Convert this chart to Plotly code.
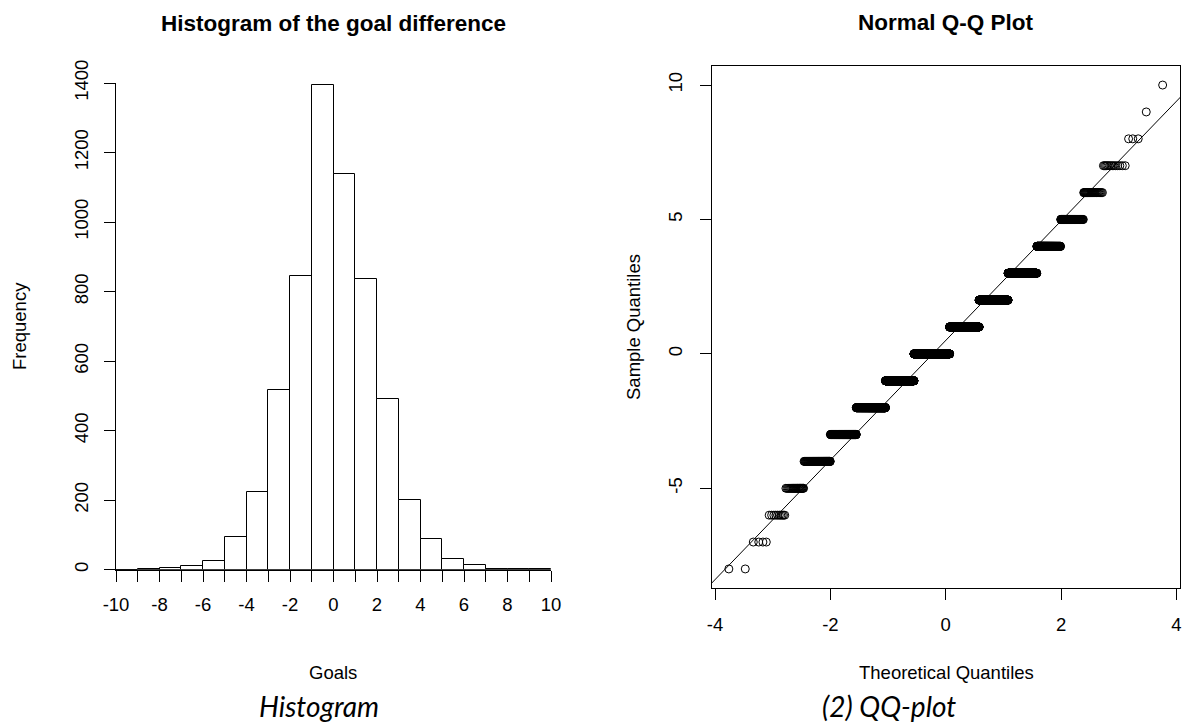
import numpy as np
import plotly.graph_objects as go
from statistics import NormalDist

# ---------------- data ----------------
goal_diff = [-8, -7, -6, -5, -4, -3, -2, -1, 0, 1, 2, 3, 4, 5, 6, 7, 8, 9, 10]
frequency = [2, 4, 10, 25, 93, 223, 518, 845, 1395, 1137, 837, 490, 201, 87, 31, 14, 3, 1, 1]

hist_breaks = list(range(-10, 11))
hist_x_ticks = list(range(-10, 11))
hist_x_ticktext = [str(v) if v % 2 == 0 else "" for v in hist_x_ticks]
hist_y_ticks = [0, 200, 400, 600, 800, 1000, 1200, 1400]
qq_x_ticks = [-4, -2, 0, 2, 4]
qq_y_ticks = [-5, 0, 5, 10]

# ---------------- derived ----------------
# R hist(): right-closed bins (a, b]
bin_counts, bin_mid = [], []
for lo, hi in zip(hist_breaks[:-1], hist_breaks[1:]):
    bin_counts.append(sum(c for v, c in zip(goal_diff, frequency) if lo < v <= hi))
    bin_mid.append((lo + hi) / 2)

sample = np.repeat(goal_diff, frequency).astype(float)
n = len(sample)
nd = NormalDist()
theo = np.array([nd.inv_cdf((i + 0.5) / n) for i in range(n)])
q1, q3 = np.quantile(sample, [0.25, 0.75])
z1, z3 = nd.inv_cdf(0.25), nd.inv_cdf(0.75)
slope = (q3 - q1) / (z3 - z1)
intercept = q1 - slope * z1

qq_xrange = [theo.min() - 0.04 * (theo.max() - theo.min()), theo.max() + 0.04 * (theo.max() - theo.min())]
qq_yrange = [sample.min() - 0.04 * (sample.max() - sample.min()), sample.max() + 0.04 * (sample.max() - sample.min())]
line_x = np.array([qq_xrange[0] - 0.5, qq_xrange[1] + 0.5])
line_y = intercept + slope * line_x

# ---------------- figure ----------------
W, H = 1182, 722
FONT = "Liberation Sans"
fig = go.Figure()

fig.add_trace(go.Bar(
    x=bin_mid, y=bin_counts, width=1,
    marker=dict(color="white", line=dict(color="black", width=1)),
    xaxis="x", yaxis="y", showlegend=False, hoverinfo="skip",
))
fig.add_trace(go.Scatter(
    x=theo, y=sample, mode="markers",
    marker=dict(symbol="circle-open", size=8, color="black", line=dict(width=1, color="black")),
    xaxis="x2", yaxis="y2", showlegend=False, hoverinfo="skip",
))
fig.add_trace(go.Scatter(
    x=line_x, y=line_y, mode="lines", line=dict(color="black", width=1),
    xaxis="x2", yaxis="y2", showlegend=False, hoverinfo="skip",
))

axis_common = dict(
    showline=True, linecolor="black", linewidth=1, ticks="outside", ticklen=11,
    tickcolor="black", tickwidth=1, showgrid=False, zeroline=False, automargin=False,
    tickfont=dict(family=FONT, size=18.5, color="black"),
)

def px_x(p):
    return p / W

def px_y(p):
    return 1 - p / H

fig.update_layout(
    width=W, height=H, margin=dict(l=0, r=0, t=0, b=0, autoexpand=False),
    paper_bgcolor="white", plot_bgcolor="white", bargap=0,
    xaxis=dict(domain=[px_x(116), px_x(551)], range=[-10, 10], tickmode="array",
               tickvals=hist_x_ticks, ticktext=hist_x_ticktext, anchor="y",
               ticklabelstandoff=7, **axis_common),
    yaxis=dict(domain=[px_y(569.7), px_y(83)], range=[0, 1400], tickmode="array",
               tickvals=hist_y_ticks, ticktext=[str(v) for v in hist_y_ticks],
               tickangle=-90, anchor="x", ticklabelstandoff=9, **axis_common),
    xaxis2=dict(domain=[px_x(711.5), px_x(1180)], range=qq_xrange, tickmode="array",
                tickvals=qq_x_ticks, ticktext=[str(v) for v in qq_x_ticks],
                mirror=True, anchor="y2", ticklabelstandoff=8, **axis_common),
    yaxis2=dict(domain=[px_y(588.3), px_y(65.7)], range=qq_yrange, tickmode="array",
                tickvals=qq_y_ticks, ticktext=[str(v) for v in qq_y_ticks],
                tickangle=-90, mirror=True, anchor="x2", ticklabelstandoff=10, **axis_common),
)

def ann(text, x, y, size, angle=0, family=FONT, italic=False):
    fig.add_annotation(
        text=text, x=px_x(x), y=px_y(y), xref="paper", yref="paper",
        xanchor="center", yanchor="middle", showarrow=False, textangle=angle,
        font=dict(family=family, size=size, color="black", style="italic" if italic else "normal"),
    )

ann("<b>Histogram of the goal difference</b>", 333, 23, 22.5)
ann("<b>Normal Q-Q Plot</b>", 946, 22, 22.5)
ann("Frequency", 19, 326, 18.5, angle=-90)
ann("Goals", 333, 672, 18.5)
ann("Sample Quantiles", 633, 327, 18.5, angle=-90)
ann("Theoretical Quantiles", 946, 672, 18.5)
ann("Histogram", 319, 706, 28, family="Lato", italic=True)
ann("(2) QQ-plot", 889, 706, 28, family="Lato", italic=True)

fig.write_html("out.html")
